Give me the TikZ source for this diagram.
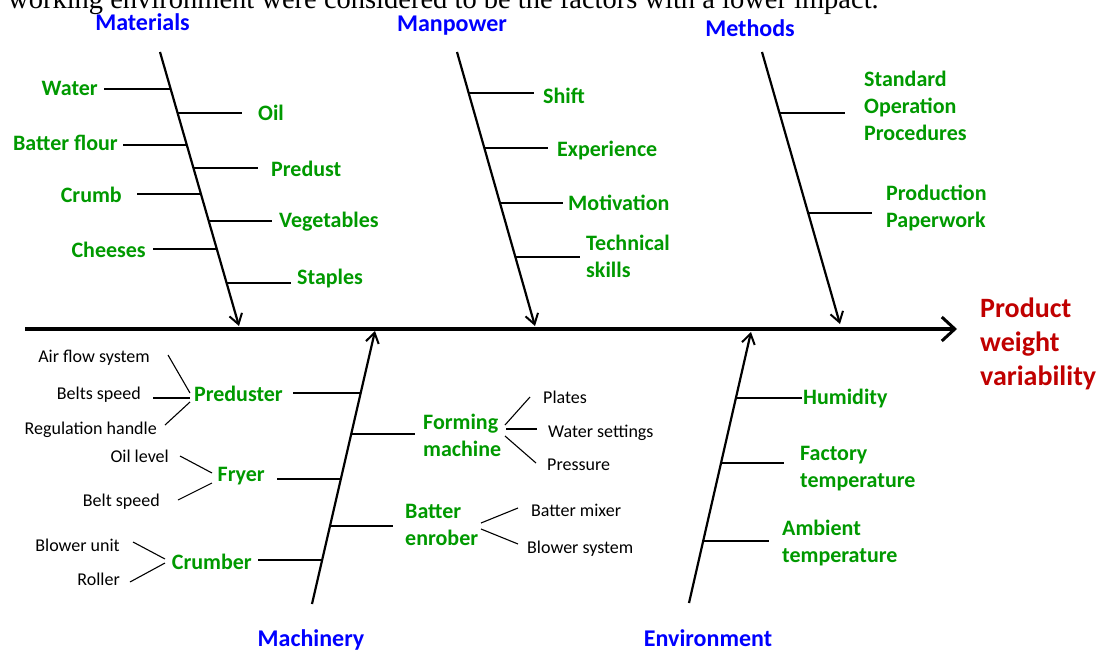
\documentclass[tikz,border=0pt]{standalone}
\usepackage{fontspec}
\setmainfont{Carlito}
\newfontfamily\serifit{Liberation Serif}
\usetikzlibrary{arrows.meta,calc}
\definecolor{fgreen}{RGB}{0,153,0}
\definecolor{fblue}{RGB}{0,0,255}
\definecolor{fred}{RGB}{192,0,0}
\begin{document}
\begin{tikzpicture}[x=1pt,y=-1pt,
  spine/.style={line width=3.5pt, -{Straight Barb[length=13pt,width=24pt,line width=3pt]}},
  bone/.style={line width=2.2pt, -{Straight Barb[length=10pt,width=13pt,line width=2pt]}},
  branch/.style={line width=2pt},
  twig/.style={line width=1.1pt},
  cause/.style={font=\fontsize{22}{27}\selectfont\bfseries, text=fgreen, inner sep=0pt, align=left},
  sub/.style={font=\fontsize{18}{22}\selectfont, text=black, inner sep=0pt},
  title/.style={font=\fontsize{24}{29}\selectfont\bfseries, text=fblue, inner sep=0pt, anchor=base},
  effect/.style={font=\fontsize{28}{34}\selectfont\bfseries, text=fred, inner sep=0pt, align=left, anchor=base west},
  toptext/.style={font=\serifit\fontsize{28.5}{30}\selectfont, inner sep=0pt, anchor=base west}]
\useasboundingbox (0,0) rectangle (1101,651);
\clip (0,0) rectangle (1101,651);

% clipped sentence at the top
\node[toptext] (sentence) at (8,8) {working environment were considered to be the factors with a lower impact.};

% spine
\coordinate (s0) at (25,329);
\coordinate (s1) at (957,329);
\draw[spine] (s0) -- (s1);
\node[effect] (effect) at (980,385) {Product\\weight\\variability};

% titles
\node[title] (tmat) at (142.5,30) {Materials};
\node[title] (tman) at (452,31) {Manpower};
\node[title] (tmet) at (750,36) {Methods};
\node[title] (tmac) at (311,646) {Machinery};
\node[title] (tenv) at (708,646) {Environment};

% ---------- Materials ----------
\coordinate (ma0) at (160,52); \coordinate (ma1) at (239,326);
\draw[bone] (ma0) -- (ma1);
\coordinate (mW) at (170.7,89);  \coordinate (mWe) at (104,89);
\coordinate (mO) at (177.6,113); \coordinate (mOe) at (242,113);
\coordinate (mB) at (186.8,145); \coordinate (mBe) at (123,145);
\coordinate (mP) at (193.4,168); \coordinate (mPe) at (258,168);
\coordinate (mC) at (200.9,194); \coordinate (mCe) at (137,194);
\coordinate (mV) at (208.7,221); \coordinate (mVe) at (272,221);
\coordinate (mH) at (216.8,249); \coordinate (mHe) at (153,249);
\coordinate (mS) at (226.6,283); \coordinate (mSe) at (291,283);
\foreach \p in {mW,mO,mB,mP,mC,mV,mH,mS} \draw[branch] (\p) -- (\p e);
\node[cause,anchor=base east] (water) at (98,95) {Water};
\node[cause,anchor=base west] (oil) at (258,120) {Oil};
\node[cause,anchor=base east] (flour) at (118,150) {Batter flour};
\node[cause,anchor=base west] (predust) at (271,176) {Predust};
\node[cause,anchor=base east] (crumb) at (122,202) {Crumb};
\node[cause,anchor=base west] (veg) at (279,227) {Vegetables};
\node[cause,anchor=base east] (cheese) at (146,257) {Cheeses};
\node[cause,anchor=base west] (staples) at (297,284) {Staples};

% ---------- Manpower ----------
\coordinate (pa0) at (457,52); \coordinate (pa1) at (535,326);
\draw[bone] (pa0) -- (pa1);
\coordinate (pS) at (468.7,93);  \coordinate (pSe) at (534,93);
\coordinate (pE) at (484.3,148); \coordinate (pEe) at (548,148);
\coordinate (pM) at (500.0,203); \coordinate (pMe) at (563,203);
\coordinate (pT) at (515.4,257); \coordinate (pTe) at (580,257);
\foreach \p in {pS,pE,pM,pT} \draw[branch] (\p) -- (\p e);
\node[cause,anchor=base west] (shift) at (543,103) {Shift};
\node[cause,anchor=base west] (exper) at (557,156) {Experience};
\node[cause,anchor=base west] (motiv) at (568,210) {Motivation};
\node[cause,anchor=base west] (tech) at (586,277) {Technical\\skills};

% ---------- Methods ----------
\coordinate (ta0) at (762,52); \coordinate (ta1) at (840,324);
\draw[bone] (ta0) -- (ta1);
\coordinate (tS) at (779.5,113); \coordinate (tSe) at (845,113);
\coordinate (tP) at (808.2,213); \coordinate (tPe) at (872,213);
\foreach \p in {tS,tP} \draw[branch] (\p) -- (\p e);
\node[cause,anchor=base west] (sop) at (864,140) {Standard\\Operation\\Procedures};
\node[cause,anchor=base west] (paper) at (886,227) {Production\\Paperwork};

% ---------- Machinery ----------
\coordinate (ca0) at (312,604); \coordinate (ca1) at (375,331);
\draw[bone] (ca0) -- (ca1);
\coordinate (cP) at (360.7,393); \coordinate (cPe) at (293,393);
\coordinate (cF) at (351.2,434); \coordinate (cFe) at (415,434);
\coordinate (cY) at (340.8,479); \coordinate (cYe) at (277,479);
\coordinate (cB) at (330.0,526); \coordinate (cBe) at (393,526);
\coordinate (cC) at (322.2,560); \coordinate (cCe) at (258,560);
\foreach \p in {cP,cF,cY,cB,cC} \draw[branch] (\p) -- (\p e);
\node[cause,anchor=base east] (preduster) at (283,401) {Preduster};
\node[cause,anchor=base west] (forming) at (423,456) {Forming\\machine};
\node[cause,anchor=base east] (fryer) at (265,481) {Fryer};
\node[cause,anchor=base west] (enrober) at (405,545) {Batter\\enrober};
\node[cause,anchor=base east] (crumber) at (252,569) {Crumber};

% Preduster twigs
\node[sub,anchor=base east] (airflow) at (150,362) {Air flow system};
\node[sub,anchor=base east] (beltsp) at (141,399) {Belts speed};
\node[sub,anchor=base east] (regul) at (157,434) {Regulation handle};
\coordinate (a1) at (168,355); \coordinate (a2) at (190,393);
\coordinate (b1) at (153,398); \coordinate (b2) at (190,398);
\coordinate (r1) at (165,425); \coordinate (r2) at (190,402);
\draw[twig] (a1) -- (a2); \draw[twig] (b1) -- (b2); \draw[twig] (r1) -- (r2);
% Fryer twigs
\node[sub,anchor=base east] (oillev) at (169,462) {Oil level};
\node[sub,anchor=base east] (beltsp2) at (160,506) {Belt speed};
\coordinate (o1) at (180,456); \coordinate (o2) at (212,473);
\coordinate (l1) at (178,500); \coordinate (l2) at (212,483);
\draw[twig] (o1) -- (o2); \draw[twig] (l1) -- (l2);
% Crumber twigs
\node[sub,anchor=base east] (blowu) at (120,551) {Blower unit};
\node[sub,anchor=base east] (roller) at (120,585) {Roller};
\coordinate (u1) at (133,542); \coordinate (u2) at (165,559);
\coordinate (q1) at (130,582); \coordinate (q2) at (165,563);
\draw[twig] (u1) -- (u2); \draw[twig] (q1) -- (q2);
% Forming machine twigs
\node[sub,anchor=base west] (plates) at (543,403) {Plates};
\node[sub,anchor=base west] (waterset) at (548,437) {Water settings};
\node[sub,anchor=base west] (press) at (547,470) {Pressure};
\coordinate (f1) at (505,425); \coordinate (f2) at (530,397);
\coordinate (g1) at (506,429); \coordinate (g2) at (537,429);
\coordinate (h1) at (505,436); \coordinate (h2) at (536,463);
\draw[twig] (f1) -- (f2); \draw[twig] (g1) -- (g2); \draw[twig] (h1) -- (h2);
% Batter enrober twigs
\node[sub,anchor=base west] (mixer) at (531,516) {Batter mixer};
\node[sub,anchor=base west] (blows) at (527,553) {Blower system};
\coordinate (k1) at (481,523); \coordinate (k2) at (518,508);
\coordinate (n1) at (481,529); \coordinate (n2) at (518,544);
\draw[twig] (k1) -- (k2); \draw[twig] (n1) -- (n2);

% ---------- Environment ----------
\coordinate (ea0) at (689,603); \coordinate (ea1) at (751,332);
\draw[bone] (ea0) -- (ea1);
\coordinate (eH) at (735.9,398); \coordinate (eHe) at (802,398);
\coordinate (eF) at (721.0,463); \coordinate (eFe) at (784,463);
\coordinate (eA) at (703.2,541); \coordinate (eAe) at (769,541);
\foreach \p in {eH,eF,eA} \draw[branch] (\p) -- (\p e);
\node[cause,anchor=base west] (humid) at (803,404) {Humidity};
\node[cause,anchor=base west] (factory) at (800,487) {Factory\\temperature};
\node[cause,anchor=base west] (ambient) at (782,562) {Ambient\\temperature};
\end{tikzpicture}
\end{document}
